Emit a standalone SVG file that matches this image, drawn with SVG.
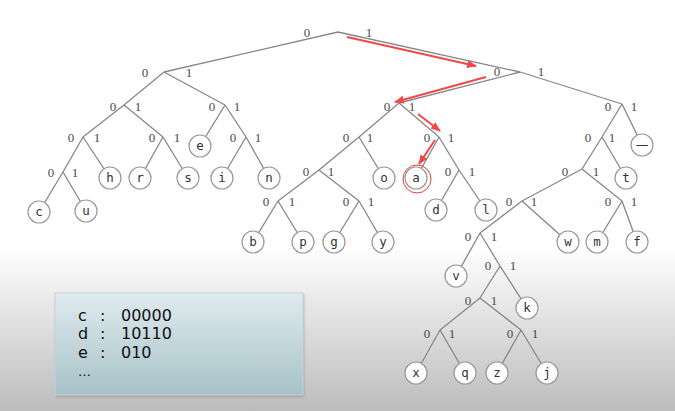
<svg xmlns="http://www.w3.org/2000/svg" width="675" height="411" viewBox="0 0 675 411">
<defs>
<linearGradient id="bg" x1="0" y1="0" x2="0" y2="1">
<stop offset="0" stop-color="#ffffff"/>
<stop offset="0.6" stop-color="#ffffff"/>
<stop offset="1" stop-color="#bcbcbc"/>
</linearGradient>
<linearGradient id="boxg" x1="0" y1="0" x2="0" y2="1">
<stop offset="0" stop-color="#e0ebee"/>
<stop offset="1" stop-color="#a6c2c8"/>
</linearGradient>
<filter id="sh" x="-10%" y="-10%" width="120%" height="130%">
<feGaussianBlur stdDeviation="1.5"/>
</filter>
<marker id="ah" viewBox="0 0 10 8" refX="9" refY="4" markerWidth="10" markerHeight="8" markerUnits="userSpaceOnUse" orient="auto">
<path d="M0,0 L10,4 L0,8 z" fill="#f24848"/>
</marker>
</defs>
<style>
.e{stroke:#878787;stroke-width:1.3;fill:none}
.lf circle{fill:#ffffff;stroke:#9a9a9a;stroke-width:1.2}
.lf text{font-family:"DejaVu Sans Mono",monospace;font-size:12.5px;fill:#333;text-anchor:middle}
.b{font-family:"Liberation Serif",serif;font-size:13px;fill:#4a4a4a;text-anchor:middle}
.ra{stroke:#f24848;stroke-width:2;fill:none;marker-end:url(#ah)}
.bt{font-family:"DejaVu Sans",sans-serif;font-size:16px;fill:#111}
</style>
<rect x="0" y="0" width="675" height="411" fill="url(#bg)"/>

<g id="connectors">
<path class="e" d="M338,32 L164,72 M338,32 L520,72
M164,72 L124,105 M164,72 L225,105
M124,105 L83,137 M124,105 L163,137
M83,137 L63,172 M83,137 L110,178
M63,172 L39,212 M63,172 L86,211
M163,137 L140,178 M163,137 L188,178
M225,105 L200,146 M225,105 L246,137
M246,137 L222,178 M246,137 L269,178
M520,72 L399,103 M520,72 L622,104
M399,103 L359,137 M399,103 L439,137
M359,137 L319,170 M359,137 L384,178
M319,170 L278,201 M319,170 L359,201
M278,201 L253,242 M278,201 L303,242
M359,201 L334,242 M359,201 L383,242
M439,137 L416,178 M439,137 L459,170
M459,170 L436,210 M459,170 L486,210
M622,104 L602,137 M622,104 L642,145
M602,137 L582,169 M602,137 L626,178
M582,169 L522,201 M582,169 L622,201
M522,201 L480,233 M522,201 L568,242
M622,201 L597,242 M622,201 L637,242
M480,233 L456,276 M480,233 L500,266
M500,266 L480,298 M500,266 L527,308
M480,298 L440,330 M480,298 L521,330
M440,330 L416,373 M440,330 L465,373
M521,330 L497,373 M521,330 L547,373"/>
</g>

<g id="edge-labels">
<text class="b" x="307" y="37">0</text><text class="b" x="369" y="37">1</text>
<text class="b" x="145" y="77">0</text><text class="b" x="189" y="77">1</text>
<text class="b" x="113" y="111">0</text><text class="b" x="138" y="111">1</text>
<text class="b" x="71" y="142">0</text><text class="b" x="97" y="142">1</text>
<text class="b" x="51" y="177">0</text><text class="b" x="75" y="177">1</text>
<text class="b" x="152" y="142">0</text><text class="b" x="177" y="142">1</text>
<text class="b" x="212" y="111">0</text><text class="b" x="237" y="111">1</text>
<text class="b" x="233" y="142">0</text><text class="b" x="258" y="142">1</text>
<text class="b" x="497" y="76">0</text><text class="b" x="541" y="76">1</text>
<text class="b" x="387" y="111">0</text><text class="b" x="412" y="111">1</text>
<text class="b" x="346" y="142">0</text><text class="b" x="370" y="142">1</text>
<text class="b" x="306" y="176">0</text><text class="b" x="331" y="176">1</text>
<text class="b" x="266" y="206">0</text><text class="b" x="292" y="206">1</text>
<text class="b" x="346" y="206">0</text><text class="b" x="371" y="206">1</text>
<text class="b" x="427" y="142">0</text><text class="b" x="451" y="142">1</text>
<text class="b" x="448" y="176">0</text><text class="b" x="472" y="176">1</text>
<text class="b" x="608" y="111">0</text><text class="b" x="634" y="111">1</text>
<text class="b" x="588" y="142">0</text><text class="b" x="612" y="142">1</text>
<text class="b" x="565" y="176">0</text><text class="b" x="596" y="176">1</text>
<text class="b" x="509" y="206">0</text><text class="b" x="534" y="206">1</text>
<text class="b" x="608" y="206">0</text><text class="b" x="634" y="206">1</text>
<text class="b" x="468" y="241">0</text><text class="b" x="494" y="241">1</text>
<text class="b" x="488" y="270">0</text><text class="b" x="513" y="270">1</text>
<text class="b" x="468" y="305">0</text><text class="b" x="494" y="305">1</text>
<text class="b" x="427" y="338">0</text><text class="b" x="452" y="338">1</text>
<text class="b" x="510" y="338">0</text><text class="b" x="535" y="338">1</text>
</g>

<g id="leaves" class="lf">
<g id="leaf-c"><circle cx="39" cy="212" r="11"/><text x="39" y="216">c</text></g>
<g id="leaf-u"><circle cx="86" cy="211" r="11"/><text x="86" y="215">u</text></g>
<g id="leaf-h"><circle cx="110" cy="178" r="11"/><text x="110" y="182">h</text></g>
<g id="leaf-r"><circle cx="140" cy="178" r="11"/><text x="140" y="182">r</text></g>
<g id="leaf-s"><circle cx="188" cy="178" r="11"/><text x="188" y="182">s</text></g>
<g id="leaf-e"><circle cx="200" cy="146" r="11"/><text x="200" y="150">e</text></g>
<g id="leaf-i"><circle cx="222" cy="178" r="11"/><text x="222" y="182">i</text></g>
<g id="leaf-n"><circle cx="269" cy="178" r="11"/><text x="269" y="182">n</text></g>
<g id="leaf-o"><circle cx="384" cy="178" r="11"/><text x="384" y="182">o</text></g>
<g id="leaf-a"><circle cx="416" cy="178" r="11"/><text x="416" y="182">a</text><circle cx="417" cy="179" r="14" style="fill:none;stroke:#f03c3c;stroke-width:1"/></g>
<g id="leaf-d"><circle cx="436" cy="210" r="11"/><text x="436" y="214">d</text></g>
<g id="leaf-l"><circle cx="486" cy="210" r="11"/><text x="486" y="214">l</text></g>
<g id="leaf-b"><circle cx="253" cy="242" r="11"/><text x="253" y="246">b</text></g>
<g id="leaf-p"><circle cx="303" cy="242" r="11"/><text x="303" y="246">p</text></g>
<g id="leaf-g"><circle cx="334" cy="242" r="11"/><text x="334" y="246">g</text></g>
<g id="leaf-y"><circle cx="383" cy="242" r="11"/><text x="383" y="246">y</text></g>
<g id="leaf-space"><circle cx="642" cy="145" r="11"/><text x="642" y="149" style="font-family:'DejaVu Sans',sans-serif">—</text></g>
<g id="leaf-t"><circle cx="626" cy="178" r="11"/><text x="626" y="182">t</text></g>
<g id="leaf-w"><circle cx="568" cy="242" r="11"/><text x="568" y="246">w</text></g>
<g id="leaf-m"><circle cx="597" cy="242" r="11"/><text x="597" y="246">m</text></g>
<g id="leaf-f"><circle cx="637" cy="242" r="11"/><text x="637" y="246">f</text></g>
<g id="leaf-v"><circle cx="456" cy="276" r="11"/><text x="456" y="280">v</text></g>
<g id="leaf-k"><circle cx="527" cy="308" r="11"/><text x="527" y="312">k</text></g>
<g id="leaf-x"><circle cx="416" cy="373" r="11"/><text x="416" y="377">x</text></g>
<g id="leaf-q"><circle cx="465" cy="373" r="11"/><text x="465" y="377">q</text></g>
<g id="leaf-z"><circle cx="497" cy="373" r="11"/><text x="497" y="377">z</text></g>
<g id="leaf-j"><circle cx="547" cy="373" r="11"/><text x="547" y="377">j</text></g>
</g>

<g id="path-arrows">
<line class="ra" x1="347" y1="37" x2="476" y2="66"/>
<line class="ra" x1="486" y1="77" x2="395" y2="102"/>
<line class="ra" x1="418" y1="114" x2="440" y2="131"/>
<line class="ra" x1="435" y1="140" x2="419" y2="164"/>
</g>

<g id="code-box">
<rect x="56" y="295" width="248" height="102" fill="#888" opacity="0.6" filter="url(#sh)"/>
<rect x="55" y="293" width="248" height="102" fill="url(#boxg)" stroke="#c3d4d8" stroke-width="1"/>
<text class="bt" y="320.5"><tspan x="78">c</tspan><tspan x="100">:</tspan><tspan x="121">00000</tspan></text>
<text class="bt" y="339.2"><tspan x="78">d</tspan><tspan x="100">:</tspan><tspan x="121">10110</tspan></text>
<text class="bt" y="357.9"><tspan x="78">e</tspan><tspan x="100">:</tspan><tspan x="121">010</tspan></text>
<text class="bt" x="78" y="375.5" style="font-size:13px">…</text>
</g>
</svg>
